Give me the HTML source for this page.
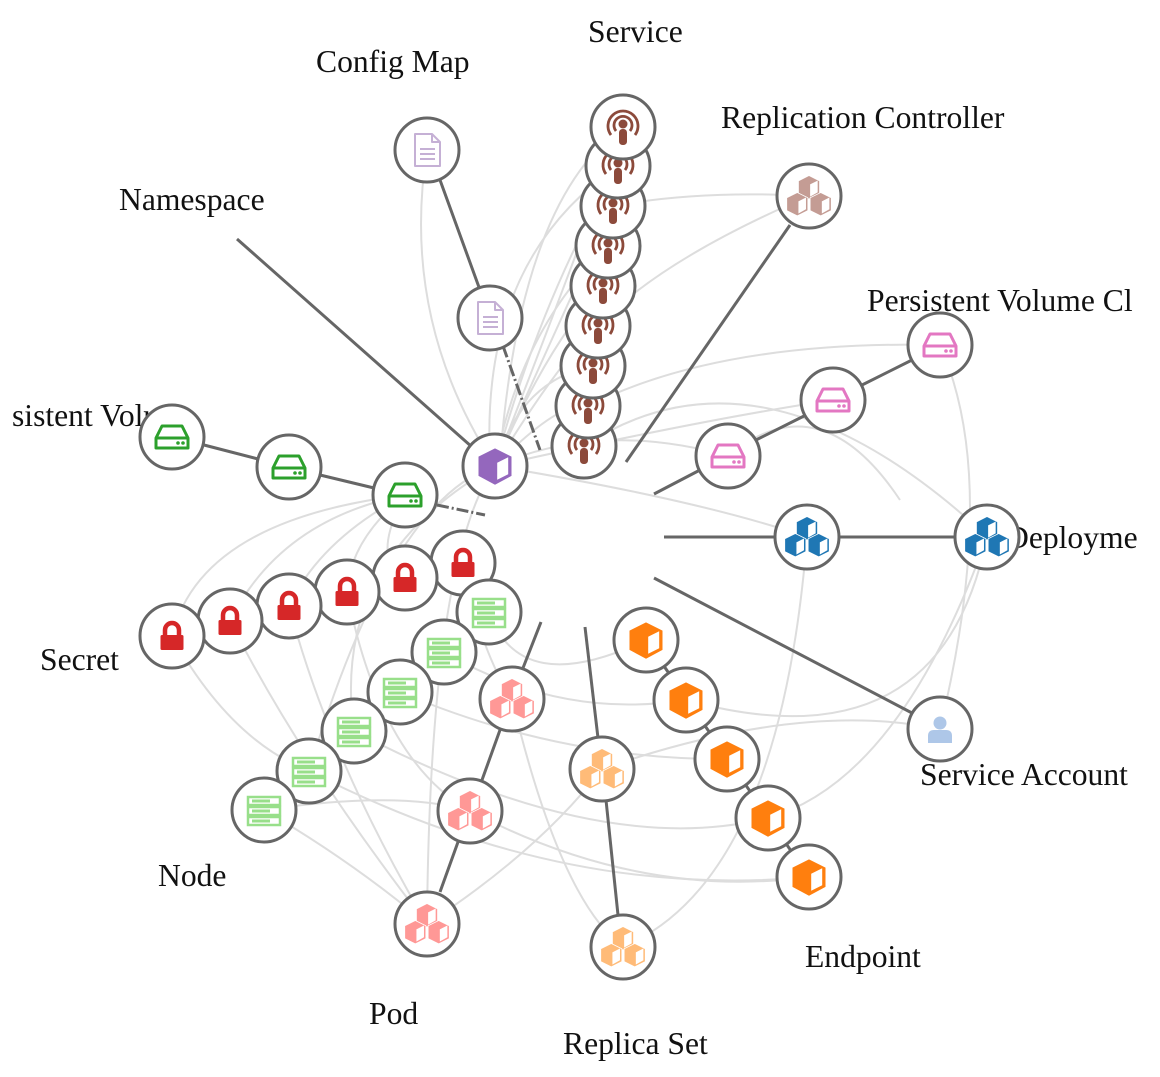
<!DOCTYPE html>
<html><head><meta charset="utf-8"><style>
html,body{margin:0;padding:0;background:#fff;}
svg{display:block;}
text{font-family:"Liberation Serif",serif;font-size:31.6px;fill:#111;}
.c{fill:#fff;stroke:#666;stroke-width:3;}
.l{stroke:#666;stroke-width:3;fill:none;}
.g{stroke:#ddd;stroke-width:2;fill:none;}
</style></head><body>
<svg width="1160" height="1077" viewBox="0 0 1160 1077" xmlns="http://www.w3.org/2000/svg">
<defs>
<g id="cube" transform="scale(1.1)">
<polygon points="0,-16 15,-8.5 15,9 0,17 -15,9 -15,-8.5" fill="currentColor"/>
<polygon points="2,-3 12,-8 12,7.5 2,12.5" fill="#fff"/>
</g>
<g id="cubes" stroke="#fff" stroke-width="1" transform="scale(1.3)">
<g transform="translate(0,-7) scale(0.58)"><polygon points="0,-15 14,-8 14,9 0,16 -14,9 -14,-8" fill="currentColor"/><polygon points="2,-3 11,-7.5 11,7 2,12" fill="#fff"/></g>
<g transform="translate(-9,6) scale(0.58)"><polygon points="0,-15 14,-8 14,9 0,16 -14,9 -14,-8" fill="currentColor"/><polygon points="2,-3 11,-7.5 11,7 2,12" fill="#fff"/></g>
<g transform="translate(9,6) scale(0.58)"><polygon points="0,-15 14,-8 14,9 0,16 -14,9 -14,-8" fill="currentColor"/><polygon points="2,-3 11,-7.5 11,7 2,12" fill="#fff"/></g>
</g>
<g id="drive">
<path d="M-10,-11 H10 L16,1 V11 H-16 V1 Z M-16,1 H16" fill="none" stroke="currentColor" stroke-width="3" stroke-linejoin="round"/>
<circle cx="6" cy="6" r="1.8" fill="currentColor"/><circle cx="11" cy="6" r="1.8" fill="currentColor"/>
</g>
<g id="lock">
<path d="M-7,0 V-6 A7,7 0 0 1 7,-6 V0" fill="none" stroke="currentColor" stroke-width="4.5"/>
<rect x="-11.5" y="-1" width="23" height="15" rx="1.5" fill="currentColor"/>
</g>
<g id="server">
<g fill="none" stroke="currentColor" stroke-width="2.5">
<rect x="-16" y="-13" width="32" height="8"/><rect x="-16" y="-3" width="32" height="8"/><rect x="-16" y="7" width="32" height="8"/>
</g>
<g fill="currentColor"><rect x="-12" y="-10.5" width="18" height="3"/><rect x="-12" y="-0.5" width="18" height="3"/><rect x="-12" y="9.5" width="18" height="3"/></g>
</g>
<g id="doc">
<path d="M-12,-16 H5 L13,-8 V16 H-12 Z M5,-16 V-8 H13" fill="none" stroke="currentColor" stroke-width="2" stroke-linejoin="round"/>
<path d="M-7,-1 H8 M-7,4 H8 M-7,9 H8" stroke="currentColor" stroke-width="2"/>
</g>
<g id="cast">
<g fill="none" stroke="currentColor" stroke-width="2.8">
<path d="M-7,4 A9,9 0 1 1 7,4"/><path d="M-12,8 A15,15 0 1 1 12,8"/>
</g>
<circle cx="0" cy="-3" r="4.5" fill="currentColor"/>
<rect x="-4" y="2" width="8" height="16" rx="3.5" fill="currentColor"/>
</g>
<g id="person">
<circle cx="0" cy="-6" r="6.5" fill="currentColor"/>
<path d="M-12,14 V7 Q-12,1 -6,1 H6 Q12,1 12,7 V14 Z" fill="currentColor"/>
</g>
</defs>

<text x="588" y="42">Service</text>
<text x="316" y="72">Config Map</text>
<text x="721" y="128">Replication Controller</text>
<text x="119" y="210">Namespace</text>
<text x="867" y="311">Persistent Volume Cl</text>
<text x="12" y="426">sistent Volu</text>
<text x="1006" y="548">Deployme</text>
<text x="40" y="670">Secret</text>
<text x="158" y="886">Node</text>
<text x="369" y="1024">Pod</text>
<text x="563" y="1054">Replica Set</text>
<text x="805" y="967">Endpoint</text>
<text x="920" y="785">Service Account</text>

<g class="g">
<path d="M495,466 Q560,300 623,127"/><path d="M495,466 Q540,300 618,166"/><path d="M495,466 Q560,320 613,206"/>
<path d="M495,466 Q520,330 608,246"/><path d="M495,466 Q550,340 603,286"/><path d="M495,466 Q560,360 598,326"/>
<path d="M495,466 Q520,380 593,366"/><path d="M495,466 Q560,400 588,406"/>
<path d="M427,150 Q400,320 495,466"/><path d="M623,127 Q520,200 500,460"/><path d="M618,166 Q480,260 490,460"/>
<path d="M809,196 Q700,190 613,206"/><path d="M809,196 Q660,260 598,326"/><path d="M588,406 Q720,340 940,345"/>
<path d="M584,446 Q760,330 980,530"/><path d="M940,345 Q1000,480 940,729"/><path d="M987,537 Q940,770 686,700"/>
<path d="M728,456 Q820,380 900,500"/><path d="M405,495 Q200,520 172,636"/><path d="M405,495 Q280,520 230,621"/>
<path d="M405,495 Q320,540 289,606"/><path d="M405,495 Q350,540 347,592"/><path d="M405,495 Q370,560 405,578"/>
<path d="M495,466 Q390,500 309,771"/><path d="M495,466 Q330,560 354,731"/><path d="M495,466 Q430,560 427,924"/>
<path d="M489,612 Q520,700 646,640"/><path d="M444,652 Q560,720 686,700"/><path d="M400,692 Q560,760 727,759"/>
<path d="M354,731 Q600,860 768,818"/><path d="M309,771 Q560,900 809,877"/><path d="M264,810 Q400,790 470,811"/>
<path d="M264,810 Q350,860 427,924"/><path d="M470,811 Q640,900 809,877"/><path d="M427,924 Q540,850 602,769"/>
<path d="M512,699 Q560,900 623,947"/><path d="M602,769 Q800,700 940,729"/><path d="M623,947 Q780,880 807,537"/>
<path d="M768,818 Q900,780 987,537"/><path d="M172,636 Q230,740 309,771"/><path d="M230,621 Q300,760 427,924"/>
<path d="M289,606 Q330,760 427,924"/><path d="M347,592 Q380,760 470,811"/><path d="M463,563 Q480,650 512,699"/>
<path d="M495,466 Q600,420 728,456"/><path d="M495,466 Q700,420 833,400"/><path d="M495,466 Q700,500 807,537"/>
</g>

<g class="l">
<line x1="237" y1="239" x2="472" y2="447"/>
<line x1="440" y1="180" x2="480" y2="290"/>
<line x1="503" y1="346" x2="540" y2="450" stroke-dasharray="12,3,2,3"/>
<line x1="790" y1="225" x2="626" y2="462"/>
<line x1="912" y1="360" x2="862" y2="385"/><line x1="806" y1="415" x2="756" y2="440"/><line x1="700" y1="470" x2="654" y2="494"/>
<line x1="664" y1="537" x2="775" y2="537"/><line x1="839" y1="537" x2="955" y2="537"/>
<line x1="654" y1="578" x2="912" y2="713"/>
<line x1="541" y1="622" x2="523" y2="668"/><line x1="500" y1="730" x2="482" y2="780"/><line x1="458" y1="842" x2="440" y2="892"/>
<line x1="585" y1="627" x2="598" y2="738"/><line x1="606" y1="800" x2="618" y2="915"/>
<line x1="204" y1="445" x2="258" y2="459"/><line x1="320" y1="475" x2="374" y2="488"/>
<line x1="437" y1="505" x2="485" y2="515" stroke-dasharray="12,3,2,3"/>
<line x1="646" y1="640" x2="809" y2="877"/>
</g>

<g>
<g style="color:#8c4a3b">
<circle class="c" cx="584" cy="446" r="32"/><use href="#cast" x="584" y="446"/>
<circle class="c" cx="588" cy="406" r="32"/><use href="#cast" x="588" y="406"/>
<circle class="c" cx="593" cy="366" r="32"/><use href="#cast" x="593" y="366"/>
<circle class="c" cx="598" cy="326" r="32"/><use href="#cast" x="598" y="326"/>
<circle class="c" cx="603" cy="286" r="32"/><use href="#cast" x="603" y="286"/>
<circle class="c" cx="608" cy="246" r="32"/><use href="#cast" x="608" y="246"/>
<circle class="c" cx="613" cy="206" r="32"/><use href="#cast" x="613" y="206"/>
<circle class="c" cx="618" cy="166" r="32"/><use href="#cast" x="618" y="166"/>
<circle class="c" cx="623" cy="127" r="32"/><use href="#cast" x="623" y="127"/>
</g>
<g style="color:#c5b0d5">
<circle class="c" cx="427" cy="150" r="32"/><use href="#doc" x="427" y="150"/>
<circle class="c" cx="490" cy="318" r="32"/><use href="#doc" x="490" y="318"/>
</g>
<g style="color:#9467bd"><circle class="c" cx="495" cy="466" r="32"/><use href="#cube" x="495" y="466"/></g>
<g style="color:#c49c94"><circle class="c" cx="809" cy="196" r="32"/><use href="#cubes" x="809" y="196"/></g>
<g style="color:#e377c2">
<circle class="c" cx="940" cy="345" r="32"/><use href="#drive" x="940" y="345"/>
<circle class="c" cx="833" cy="400" r="32"/><use href="#drive" x="833" y="400"/>
<circle class="c" cx="728" cy="456" r="32"/><use href="#drive" x="728" y="456"/>
</g>
<g style="color:#1f77b4">
<circle class="c" cx="807" cy="537" r="32"/><use href="#cubes" x="807" y="537"/>
<circle class="c" cx="987" cy="537" r="32"/><use href="#cubes" x="987" y="537"/>
</g>
<g style="color:#aec7e8"><circle class="c" cx="940" cy="729" r="32"/><use href="#person" x="940" y="729"/></g>
<g style="color:#ff7f0e">
<circle class="c" cx="646" cy="640" r="32"/><use href="#cube" x="646" y="640"/>
<circle class="c" cx="686" cy="700" r="32"/><use href="#cube" x="686" y="700"/>
<circle class="c" cx="727" cy="759" r="32"/><use href="#cube" x="727" y="759"/>
<circle class="c" cx="768" cy="818" r="32"/><use href="#cube" x="768" y="818"/>
<circle class="c" cx="809" cy="877" r="32"/><use href="#cube" x="809" y="877"/>
</g>
<g style="color:#ffbb78">
<circle class="c" cx="602" cy="769" r="32"/><use href="#cubes" x="602" y="769"/>
<circle class="c" cx="623" cy="947" r="32"/><use href="#cubes" x="623" y="947"/>
</g>
<g style="color:#ff9896">
<circle class="c" cx="512" cy="699" r="32"/><use href="#cubes" x="512" y="699"/>
<circle class="c" cx="470" cy="811" r="32"/><use href="#cubes" x="470" y="811"/>
<circle class="c" cx="427" cy="924" r="32"/><use href="#cubes" x="427" y="924"/>
</g>
<g style="color:#d62728">
<circle class="c" cx="463" cy="563" r="32"/><use href="#lock" x="463" y="563"/>
<circle class="c" cx="405" cy="578" r="32"/><use href="#lock" x="405" y="578"/>
<circle class="c" cx="347" cy="592" r="32"/><use href="#lock" x="347" y="592"/>
<circle class="c" cx="289" cy="606" r="32"/><use href="#lock" x="289" y="606"/>
<circle class="c" cx="230" cy="621" r="32"/><use href="#lock" x="230" y="621"/>
<circle class="c" cx="172" cy="636" r="32"/><use href="#lock" x="172" y="636"/>
</g>
<g style="color:#98df8a">
<circle class="c" cx="489" cy="612" r="32"/><use href="#server" x="489" y="612"/>
<circle class="c" cx="444" cy="652" r="32"/><use href="#server" x="444" y="652"/>
<circle class="c" cx="400" cy="692" r="32"/><use href="#server" x="400" y="692"/>
<circle class="c" cx="354" cy="731" r="32"/><use href="#server" x="354" y="731"/>
<circle class="c" cx="309" cy="771" r="32"/><use href="#server" x="309" y="771"/>
<circle class="c" cx="264" cy="810" r="32"/><use href="#server" x="264" y="810"/>
</g>
<g style="color:#2ca02c">
<circle class="c" cx="172" cy="437" r="32"/><use href="#drive" x="172" y="437"/>
<circle class="c" cx="289" cy="467" r="32"/><use href="#drive" x="289" y="467"/>
<circle class="c" cx="405" cy="495" r="32"/><use href="#drive" x="405" y="495"/>
</g>
</g>
</svg>
</body></html>
